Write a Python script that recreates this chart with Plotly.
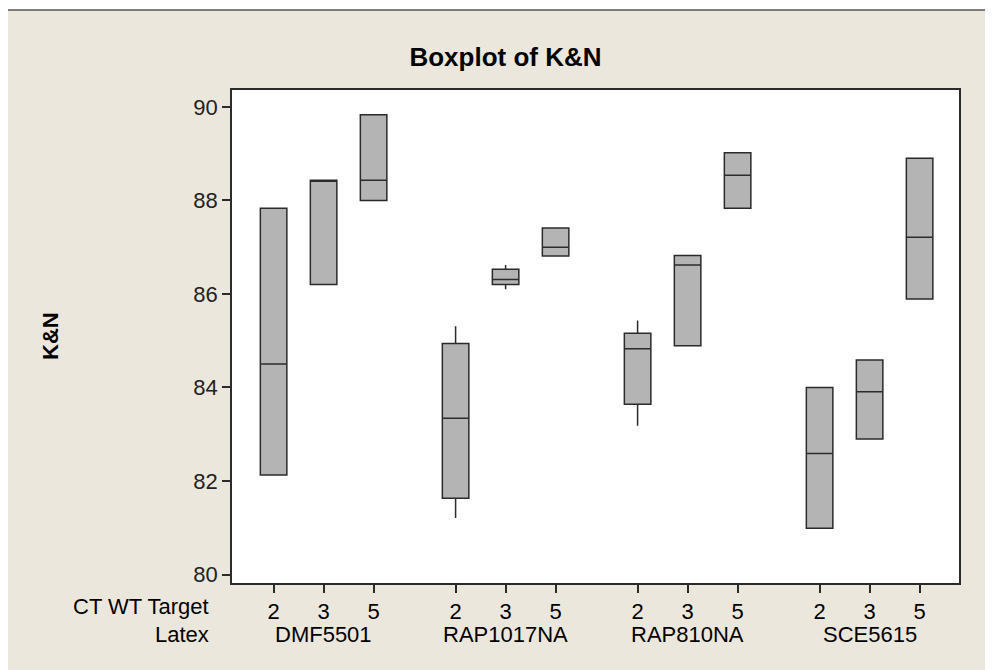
import plotly.graph_objects as go

# ---- data ----
latex = ["DMF5501", "RAP1017NA", "RAP810NA", "SCE5615"]
targets = ["2", "3", "5"]
# order: DMF(2,3,5), RAP1017NA(2,3,5), RAP810NA(2,3,5), SCE5615(2,3,5)
q1 = [82.13, 86.20, 88.00, 81.63, 86.20, 86.81, 83.64, 84.89, 87.83, 80.99, 82.90, 85.89]
median = [84.50, 88.43, 88.43, 83.34, 86.31, 87.00, 84.83, 86.62, 88.54, 82.59, 83.91, 87.21]
q3 = [87.83, 88.43, 89.83, 84.94, 86.53, 87.41, 85.16, 86.82, 89.02, 84.00, 84.59, 88.90]
lowerfence = [82.13, 86.20, 88.00, 81.21, 86.10, 86.81, 83.18, 84.89, 87.83, 80.99, 82.90, 85.89]
upperfence = [87.83, 88.43, 89.83, 85.31, 86.62, 87.41, 85.43, 86.82, 89.02, 84.00, 84.59, 88.90]
y_ticks = [80, 82, 84, 86, 88, 90]

# ---- layout helpers (screen pixels; page body has an 8px margin) ----
OFF = 8
W, H = 993 - OFF, 670 - OFF
L, R, T, B = 232, 959, 90, 583          # plot area in screen pixels
GROUP_STEP = 3.64
pos = [g * GROUP_STEP + k for g in range(len(latex)) for k in range(len(targets))]
group_centers = [g * GROUP_STEP + 1 for g in range(len(latex))]

def px_x(p):
    return (p - L) / (R - L)

def px_y(p):
    return (B - p) / (B - T)

font = "Liberation Sans, Arial, sans-serif"
ink = "#2b2b2b"
beige = "#ECE7DC"
FS = 22

fig = go.Figure()
fig.add_trace(go.Box(
    x=pos, q1=q1, median=median, q3=q3,
    lowerfence=lowerfence, upperfence=upperfence,
    width=0.53, whiskerwidth=0,
    fillcolor="#b4b4b4",
    line=dict(color=ink, width=1.5),
    boxpoints=False, showlegend=False, hoverinfo="skip",
))

shapes = [
    dict(type="rect", xref="paper", yref="paper",
         x0=px_x(5), x1=px_x(1010), y0=px_y(690), y1=px_y(10),
         fillcolor=beige, line=dict(color="#555555", width=1.5), layer="below"),
    dict(type="rect", xref="paper", yref="paper",
         x0=0, x1=1, y0=0, y1=1,
         fillcolor="white", line=dict(width=0), layer="below"),
]

annotations = [
    dict(text="K&N", xref="paper", yref="paper", x=px_x(50), y=px_y(336),
         textangle=-90, showarrow=False, xanchor="center", yanchor="middle",
         font=dict(family=font, size=FS, color="black", weight="bold")),
    dict(text="CT WT Target", xref="paper", yref="paper", x=px_x(211), y=px_y(606),
         showarrow=False, xanchor="right", yanchor="middle",
         font=dict(family=font, size=FS, color="black")),
    dict(text="Latex", xref="paper", yref="paper", x=px_x(211), y=px_y(634),
         showarrow=False, xanchor="right", yanchor="middle",
         font=dict(family=font, size=FS, color="black")),
]
for name, c in zip(latex, group_centers):
    annotations.append(dict(text=name, x=c, xref="x", yref="paper", y=px_y(634),
                            showarrow=False, xanchor="center", yanchor="middle",
                            font=dict(family=font, size=FS, color="black")))

fig.update_layout(
    width=W, height=H,
    margin=dict(l=L - OFF, r=(W + OFF) - R, t=T - OFF, b=(H + OFF) - B),
    paper_bgcolor="white", plot_bgcolor="white",
    title=dict(text="<b>Boxplot of K&N</b>", xref="container", yref="container",
               x=(505.5 - OFF) / W, y=1 - (57 - OFF) / H, xanchor="center", yanchor="middle",
               font=dict(family=font, size=26, color="black")),
    shapes=shapes, annotations=annotations,
    xaxis=dict(range=[(L - 273.6) / 50, (R - 273.6) / 50],
               tickvals=pos, ticktext=targets * len(latex),
               ticks="outside", ticklen=8, tickcolor=ink, tickwidth=1.5,
               showline=True, linecolor=ink, linewidth=1.5, mirror=True,
               showgrid=False, zeroline=False,
               tickfont=dict(family=font, size=FS, color="black")),
    yaxis=dict(range=[79.82, 90.36], tickvals=y_ticks,
               ticks="outside", ticklen=8, tickcolor=ink, tickwidth=1.5,
               showline=True, linecolor=ink, linewidth=1.5, mirror=True,
               showgrid=False, zeroline=False,
               tickfont=dict(family=font, size=FS, color="#222")),
)

fig.write_html("out.html")
